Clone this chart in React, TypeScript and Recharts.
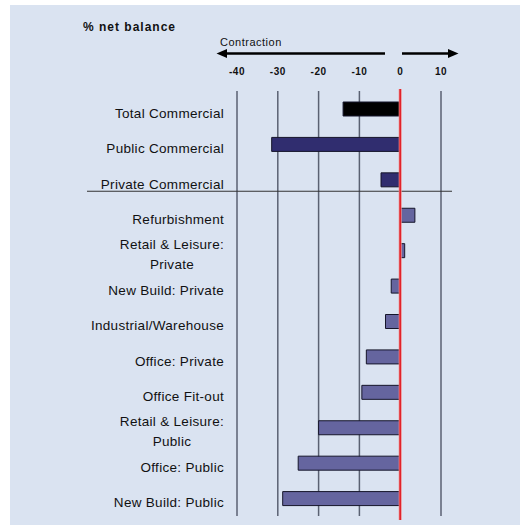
import React from 'react';
import { BarChart, Bar, XAxis, YAxis, CartesianGrid, ReferenceLine, Cell } from 'recharts';

const categories: string[] = [
  'Total Commercial',
  'Public Commercial',
  'Private Commercial',
  'Refurbishment',
  'Retail & Leisure:\nPrivate',
  'New Build: Private',
  'Industrial/Warehouse',
  'Office: Private',
  'Office Fit-out',
  'Retail & Leisure:\nPublic',
  'Office: Public',
  'New Build: Public',
];

const netBalance: number[] = [-14, -31.5, -4.7, 3.6, 1.1, -2.2, -3.6, -8.3, -9.4, -20, -25, -28.8];

const groups: string[] = [
  'total', 'commercial', 'commercial',
  'sector', 'sector', 'sector', 'sector', 'sector', 'sector', 'sector', 'sector', 'sector',
];

const xTicks: number[] = [-40, -30, -20, -10, 0, 10];

const groupColors: Record<string, string> = {
  total: '#000000',
  commercial: '#302d6f',
  sector: '#65659f',
};

const data = categories.map((name, i) => ({ name, value: netBalance[i], group: groups[i] }));

const FONT = '"Liberation Sans", Arial, sans-serif';

const YTick = (props: any) => {
  const { x, y, payload } = props;
  const lines = String(payload.value).split('\n');
  if (lines.length === 1) {
    return (
      <text x={x} y={y + 9} textAnchor="end" fontFamily={FONT} fontSize={13.5} letterSpacing={0.3} fill="#111">
        {lines[0]}
      </text>
    );
  }
  const cx = x - 52;
  return (
    <g>
      <text x={x} y={y - 1} textAnchor="end" fontFamily={FONT} fontSize={13.5} letterSpacing={0.3} fill="#111">
        {lines[0]}
      </text>
      <text x={cx} y={y + 19} textAnchor="middle" fontFamily={FONT} fontSize={13.5} letterSpacing={0.3} fill="#111">
        {lines[1]}
      </text>
    </g>
  );
};

const XTick = (props: any) => {
  const { x, y, payload } = props;
  return (
    <text x={x} y={y} textAnchor="middle" fontFamily={FONT} fontSize={10} fontWeight="bold" letterSpacing={0.5} fill="#111">
      {payload.value}
    </text>
  );
};

const ZeroLine = (props: any) => {
  const { x1, y1, y2 } = props;
  return (
    <g>
      <line x1={x1} x2={x1} y1={y1 - 2} y2={y2 + 4} stroke="#f08a8a" strokeWidth={3} />
      <line x1={x1} x2={x1} y1={y1 - 2} y2={y2 + 4} stroke="#e0222a" strokeWidth={1.6} />
    </g>
  );
};

const Separator = (props: any) => {
  const { x1, x2, y1 } = props;
  return <line x1={x1 - 150} x2={x2 + 11} y1={y1 - 6} y2={y1 - 6} stroke="#333" strokeWidth={1.2} />;
};

export default function App() {
  return (
    <div style={{ position: 'absolute', left: 0, top: 0, width: 520, height: 525, background: '#ffffff' }}>
      <div style={{ position: 'absolute', left: 10, top: 5, width: 510, height: 520, background: '#dae3f1' }} />
      <div style={{ position: 'absolute', left: 0, top: 0 }}>
        <BarChart
          width={520}
          height={525}
          data={data}
          layout="vertical"
          margin={{ top: 51, right: 79, bottom: 9, left: 0 }}
          barSize={14}
        >
          <CartesianGrid horizontal={false} vertical={true} stroke="#5a6172" strokeWidth={1.5} />
          <XAxis
            type="number"
            orientation="top"
            domain={[-40, 10]}
            ticks={xTicks}
            axisLine={false}
            tickLine={false}
            tickSize={0}
            tickMargin={16}
            height={40}
            tick={<XTick />}
            allowDataOverflow
          />
          <YAxis
            type="category"
            dataKey="name"
            width={237}
            axisLine={false}
            tickLine={false}
            tickSize={0}
            tickMargin={13}
            tick={<YTick />}
            interval={0}
          />
          <Bar dataKey="value" isAnimationActive={false} stroke="#15152a" strokeWidth={1}>
            {data.map((d, i) => (
              <Cell key={i} fill={groupColors[d.group]} />
            ))}
          </Bar>
          <ReferenceLine y="Refurbishment" position="start" shape={<Separator />} />
          <ReferenceLine x={0} shape={<ZeroLine />} />
        </BarChart>
      </div>
      <svg width={520} height={90} style={{ position: 'absolute', left: 0, top: 0, pointerEvents: 'none' }}>
        <text x={83} y={31} fontFamily={FONT} fontSize={12} fontWeight="bold" letterSpacing={1} fill="#111">
          % net balance
        </text>
        <text x={220} y={45.5} fontFamily={FONT} fontSize={11} letterSpacing={0.5} fill="#111">
          Contraction
        </text>
        <line x1={385} x2={224} y1={53.5} y2={53.5} stroke="#000" strokeWidth={2.6} />
        <polygon points="216.5,53.5 227,49 227,58" fill="#000" />
        <line x1={402} x2={450} y1={53.5} y2={53.5} stroke="#000" strokeWidth={2.6} />
        <polygon points="458.5,53.5 448,49 448,58" fill="#000" />
      </svg>
    </div>
  );
}
